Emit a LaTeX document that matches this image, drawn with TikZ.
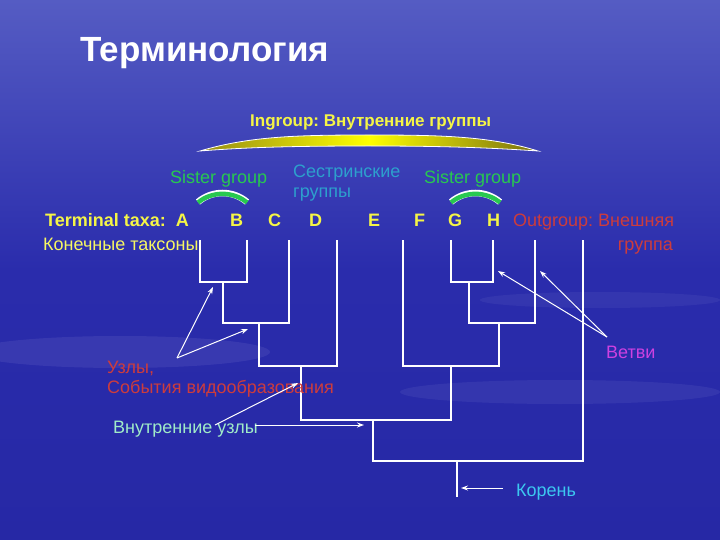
\documentclass[tikz,border=0pt]{standalone}
\usepackage{fontspec}
\setmainfont{Liberation Sans}
\usetikzlibrary{arrows.meta}

\definecolor{bgtop}{RGB}{85,92,195}
\definecolor{bgmid}{RGB}{42,44,172}
\definecolor{bgbot}{RGB}{38,40,165}
\definecolor{taxayellow}{RGB}{245,245,70}
\definecolor{sweepdark}{RGB}{150,140,20}
\definecolor{sistergreen}{RGB}{40,200,80}
\definecolor{sisterteal}{RGB}{45,160,205}
\definecolor{outred}{RGB}{205,60,60}
\definecolor{innermint}{RGB}{160,235,200}
\definecolor{branchmagenta}{RGB}{205,65,225}
\definecolor{rootcyan}{RGB}{60,200,240}

\frenchspacing
\begin{document}
\begin{tikzpicture}[
    x=1pt, y=-1pt,
    lbl/.style={inner sep=0pt, anchor=base west, font=\fontsize{18}{21}\selectfont},
    bold/.style={lbl, font=\fontsize{18}{21}\selectfont\bfseries, text=taxayellow},
    branch/.style={draw=white, line width=2pt},
    pointer/.style={draw=white, line width=1pt, -{Stealth[length=7pt, width=5pt]}},
    sisterarc/.style={line width=4.5pt, draw=sistergreen}
]
\useasboundingbox (0,0) rectangle (720,540);
% background
\shade[top color=bgtop, bottom color=bgbot, middle color=bgmid] (0,0) rectangle (720,540);
\fill[white, opacity=0.07] (120,352) ellipse (150 and 16);
\fill[white, opacity=0.06] (560,392) ellipse (160 and 12);
\fill[white, opacity=0.05] (600,300) ellipse (120 and 8);

% title
\node[lbl, font=\fontsize{35}{40}\selectfont\bfseries, text=white] (title) at (80,62) {Терминология};

% ingroup
\node[lbl, font=\fontsize{17}{20}\selectfont\bfseries, text=taxayellow] (ingroup) at (250,127) {Ingroup: Внутренние группы};
\shade[left color=sweepdark, right color=sweepdark!80!black, middle color=yellow, draw=white, line width=0.8pt]
  (200,151) .. controls (250,136) and (300,135) .. (369,135)
  .. controls (440,135) and (490,136) .. (538,151)
  .. controls (480,147) and (430,146) .. (369,146)
  .. controls (300,146) and (250,147) .. (200,151) -- cycle;

% sister groups
\node[lbl, text=sistergreen] (sisterL) at (170,184) {Sister group};
\node[lbl, text=sistergreen] (sisterR) at (424,184) {Sister group};
\node[lbl, text=sisterteal] (sisterRu) at (293,178) {Сестринские};
\node[lbl, text=sisterteal] (sisterRu2) at (293,197) {группы};
\foreach \xa in {198,451} {
  \draw[draw=white, line width=6.5pt] (\xa,202) .. controls (\xa+14,190) and (\xa+35,190) .. (\xa+49,202);
  \draw[sisterarc] (\xa,202.5) .. controls (\xa+14,191) and (\xa+35,191) .. (\xa+49,202.5);
}

% terminal taxa
\node[bold] (taxa) at (45,226) {Terminal taxa:\ \ A};
\node[bold] (lB) at (230,226) {B};
\node[bold] (lC) at (268,226) {C};
\node[bold] (lD) at (309,226) {D};
\node[bold] (lE) at (368,226) {E};
\node[bold] (lF) at (414,226) {F};
\node[bold] (lG) at (448,226) {G};
\node[bold] (lH) at (487,226) {H};
\node[lbl, text=outred] (outgroup) at (513,226) {Outgroup: Внешняя};
\node[lbl, text=outred, anchor=base east] (outgroup2) at (673,250) {группа};
\node[lbl, text=taxayellow!85!white] (konech) at (43,250) {Конечные таксоны};

% tree
\coordinate (tA) at (200,240);
\coordinate (tB) at (247,240);
\coordinate (tC) at (289,240);
\coordinate (tD) at (337,240);
\coordinate (tE) at (403,240);
\coordinate (tF) at (451,240);
\coordinate (tG) at (493,240);
\coordinate (tH) at (535,240);
\coordinate (tO) at (583,240);
\coordinate (nAB) at (223,282);
\coordinate (nABC) at (259,323);
\coordinate (nABCD) at (301,366);
\coordinate (nFG) at (469,282);
\coordinate (nFGH) at (499,323);
\coordinate (nEFGH) at (451,366);
\coordinate (nIn) at (373,420);
\coordinate (nRoot) at (457,461);
\coordinate (rootEnd) at (457,497);
\draw[branch] (tA) |- (nAB) -| (tB);
\draw[branch] (nAB) |- (nABC) -| (tC);
\draw[branch] (nABC) |- (nABCD) -| (tD);
\draw[branch] (tF) |- (nFG) -| (tG);
\draw[branch] (nFG) |- (nFGH) -| (tH);
\draw[branch] (tE) |- (nEFGH) -| (nFGH);
\draw[branch] (nABCD) |- (nIn) -| (nEFGH);
\draw[branch] (nIn) |- (nRoot) -| (tO);
\draw[branch] (nRoot) -- (rootEnd);

% labels with pointers
\node[lbl, text=outred] (uzly) at (107,373) {Узлы,};
\node[lbl, text=outred] (sobyt) at (107,393) {События видообразования};
\node[lbl, text=innermint] (vnutr) at (113,433) {Внутренние узлы};
\node[lbl, text=branchmagenta] (vetvi) at (606,358) {Ветви};
\node[lbl, text=rootcyan] (koren) at (516,496) {Корень};

\coordinate (uzlyFrom) at (177,358);
\coordinate (uzlyTo1) at (213,287);
\coordinate (uzlyTo2) at (248,329);
\coordinate (vnutrFrom1) at (215,425);
\coordinate (vnutrTo1) at (298,383);
\coordinate (vnutrFrom2) at (255,425);
\coordinate (vnutrTo2) at (364,425);
\coordinate (vetviFrom) at (607,337);
\coordinate (vetviTo1) at (498,271);
\coordinate (vetviTo2) at (540,271);
\coordinate (korenFrom) at (503,488);
\coordinate (korenTo) at (461,488);

\draw[pointer] (uzlyFrom) -- (uzlyTo1);
\draw[pointer] (uzlyFrom) -- (uzlyTo2);
\draw[pointer] (vnutrFrom1) -- (vnutrTo1);
\draw[pointer] (vnutrFrom2) -- (vnutrTo2);
\draw[pointer] (vetviFrom) -- (vetviTo1);
\draw[pointer] (vetviFrom) -- (vetviTo2);
\draw[pointer] (korenFrom) -- (korenTo);

\end{tikzpicture}
\end{document}
